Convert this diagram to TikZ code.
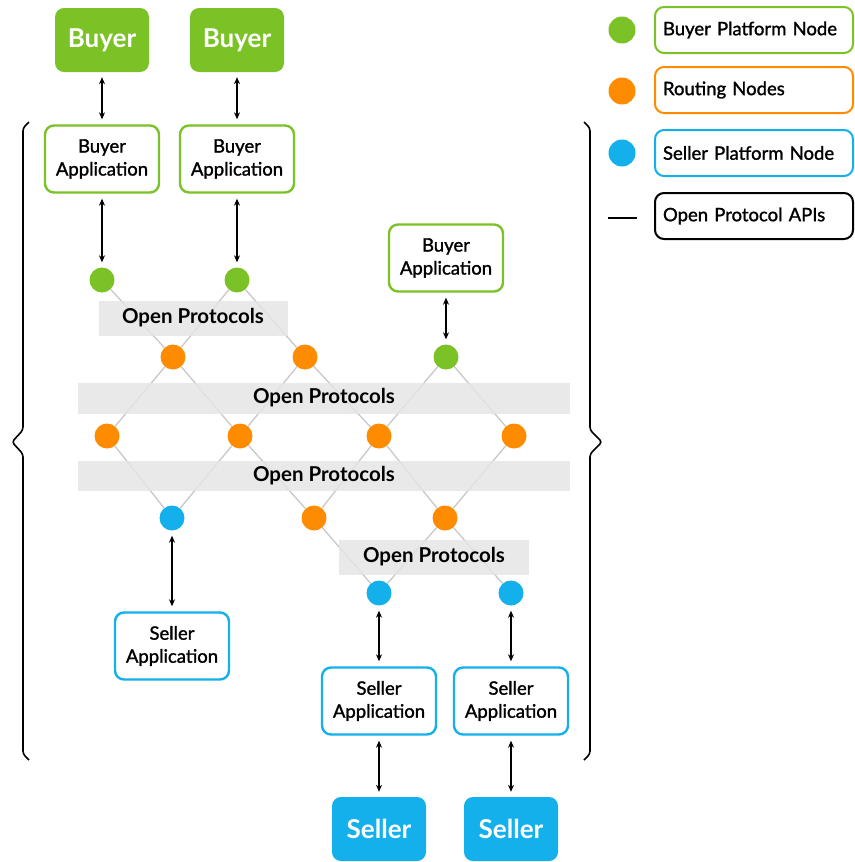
\documentclass[tikz,border=0pt]{standalone}
\usepackage{fontspec}
\setmainfont{Lato}
\newfontfamily\appfont{Lato}[FakeBold=1.4]
\usetikzlibrary{arrows.meta}
\definecolor{bgreen}{RGB}{122,194,38}
\definecolor{rorange}{RGB}{255,140,0}
\definecolor{sblue}{RGB}{20,176,236}
\definecolor{bandgray}{RGB}{229,229,229}
\definecolor{wire}{RGB}{200,200,200}

\begin{document}
\begin{tikzpicture}[x=1pt, y=-1pt,
	party/.style={rounded corners=9pt, minimum width=94pt, minimum height=64pt, text=white, font=\fontsize{26}{30}\selectfont\bfseries},
	app/.style={draw, line width=2.4pt, rounded corners=9pt, fill=white, minimum width=114pt, minimum height=67pt, align=center, text=black, font=\fontsize{18.5}{23}\appfont},
	dot/.style={circle, inner sep=0pt, minimum size=25pt},
	protoband/.style={fill=bandgray, fill opacity=0.85, text opacity=1, inner sep=0pt, font=\fontsize{20.5}{22}\selectfont\bfseries},
	link/.style={draw=wire, line width=1.3pt},
	api/.style={{Stealth[length=7pt,width=6pt]}-{Stealth[length=7pt,width=6pt]}, line width=1.1pt, shorten <=5pt, shorten >=5pt},
	legbox/.style={draw, line width=2pt, rounded corners=9pt, minimum width=198pt, minimum height=46pt, text width=182pt, align=left, font=\fontsize{18.5}{20}\appfont}
]
	\useasboundingbox (0,0) rectangle (854,862);

	% Buyers and their applications
	\node[party, fill=bgreen] (buyer1) at (102,40) {Buyer};
	\node[party, fill=bgreen] (buyer2) at (237,40) {Buyer};
	\node[app, draw=bgreen] (bapp1) at (102,159) {Buyer\\Application};
	\node[app, draw=bgreen] (bapp2) at (237,159) {Buyer\\Application};
	\node[app, draw=bgreen] (bapp3) at (446,258) {Buyer\\Application};

	% Sellers and their applications
	\node[app, draw=sblue] (sapp1) at (172,646) {Seller\\Application};
	\node[app, draw=sblue] (sapp2) at (379,701) {Seller\\Application};
	\node[app, draw=sblue] (sapp3) at (511,701) {Seller\\Application};
	\node[party, fill=sblue] (seller1) at (379,829) {Seller};
	\node[party, fill=sblue] (seller2) at (511,829) {Seller};

	% Platform nodes
	\foreach \n/\x/\y in {gA/102/280, gB/237/280, gC/446/357}
	\node[dot, fill=bgreen] (\n) at (\x,\y) {};
	\foreach \n/\x/\y in {sA/172/518, sB/379/593, sC/511/593}
	\node[dot, fill=sblue] (\n) at (\x,\y) {};

	% Routing nodes
	\foreach \n/\x/\y in {oA/173/357, oB/305/357, oC/107/436, oD/240/436, oE/379/436, oF/514/436, oG/314/518, oH/445/518}
	\node[dot, fill=rorange] (\n) at (\x,\y) {};

	% Links between nodes
	\foreach \a/\b in {gA/oA, gB/oA, gB/oB, oA/oC, oA/oD, oB/oD, oB/oE, gC/oE, gC/oF, oC/sA, oD/sA, oD/oG, oE/oG, oE/oH, oF/oH, oG/sB, oH/sB, oH/sC}
	\draw[link] (\a) -- (\b);

	% Open protocol bands
	\node[protoband, minimum width=189pt, minimum height=35pt] (band1) at (193,318) {Open Protocols};
	\node[protoband, minimum width=492pt, minimum height=31pt] (band2) at (324,398) {Open Protocols};
	\node[protoband, minimum width=492pt, minimum height=30pt] (band3) at (324,476) {Open Protocols};
	\node[protoband, minimum width=190pt, minimum height=35pt] (band4) at (434,557) {Open Protocols};

	% API arrows
	\draw[api] (buyer1) -- (bapp1);
	\draw[api] (buyer2) -- (bapp2);
	\draw[api] (bapp1) -- (gA);
	\draw[api] (bapp2) -- (gB);
	\draw[api] (bapp3) -- (gC);
	\draw[api] (sA) -- (sapp1);
	\draw[api] (sB) -- (sapp2);
	\draw[api] (sC) -- (sapp3);
	\draw[api] (sapp2) -- (seller1);
	\draw[api] (sapp3) -- (seller2);

	% Braces round the network
	\draw[line width=1.6pt, rounded corners=3pt] (29,122) -- (23,128) -- (23,430) -- (12,442) -- (23,454) -- (23,754) -- (29,760);
	\draw[line width=1.6pt, rounded corners=3pt] (584,122) -- (590,128) -- (590,430) -- (602,442) -- (590,454) -- (590,754) -- (584,760);

	% Legend
	\node[dot, fill=bgreen, minimum size=27pt] (keyg) at (622,30) {};
	\node[dot, fill=rorange, minimum size=27pt] (keyo) at (622,91) {};
	\node[dot, fill=sblue, minimum size=27pt] (keys) at (622,153) {};
	\draw[line width=1.8pt] (608,218) -- (637,218);
	\node[legbox, draw=bgreen] (legg) at (754,30) {Buyer Platform Node};
	\node[legbox, draw=rorange] (lego) at (754,90) {Routing Nodes};
	\node[legbox, draw=sblue] (legs) at (754,153) {Seller Platform Node};
	\node[legbox, draw=black] (legp) at (754,216) {Open Protocol APIs};
\end{tikzpicture}
\end{document}
